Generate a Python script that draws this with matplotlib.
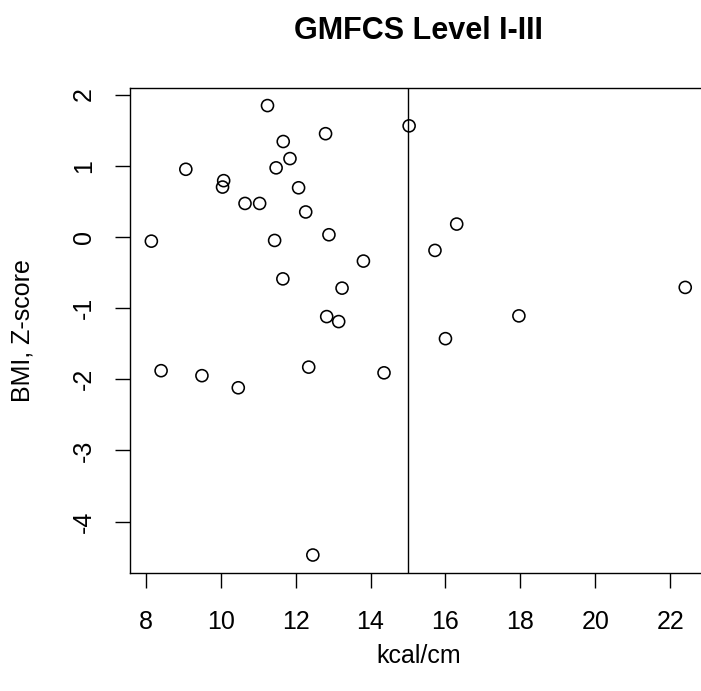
import matplotlib.pyplot as plt
import numpy as np

plt.rcParams['font.family'] = ['Liberation Sans', 'DejaVu Sans']
plt.rcParams['axes.unicode_minus'] = False

kcal_cm = [8.15, 8.41, 9.07, 9.50, 10.05, 10.08, 10.47, 10.65, 11.04, 11.25,
           11.48, 11.44, 11.67, 11.66, 11.85, 12.08, 12.27, 12.35, 12.46, 12.80,
           12.83, 12.89, 13.15, 13.24, 13.81, 14.36, 15.03, 15.72, 16.00, 16.30,
           17.96, 22.40]
bmi_z = [-0.06, -1.88, 0.95, -1.95, 0.70, 0.79, -2.12, 0.47, 0.47, 1.845,
         0.97, -0.05, 1.34, -0.59, 1.10, 0.69, 0.35, -1.83, -4.47, 1.45,
         -1.12, 0.03, -1.19, -0.72, -0.34, -1.91, 1.56, -0.19, -1.43, 0.18,
         -1.11, -0.71]
cutoff = 15
x_ticks = [8, 10, 12, 14, 16, 18, 20, 22]
y_ticks = [-4, -3, -2, -1, 0, 1, 2]

fig = plt.figure(figsize=(7.01, 6.91), dpi=100)
ax = fig.add_axes([130 / 701, 118 / 691, 576.6 / 701, 485.4 / 691])

ax.scatter(kcal_cm, bmi_z, s=75, facecolors='none', edgecolors='black', linewidths=1.15)
ax.axvline(cutoff, color='black', linewidth=1.0)

# R style 4% axis expansion
xr = max(kcal_cm) - min(kcal_cm)
yr = max(bmi_z) - min(bmi_z)
ax.set_xlim(min(kcal_cm) - 0.04 * xr, max(kcal_cm) + 0.04 * xr)
ax.set_ylim(min(bmi_z) - 0.04 * yr, max(bmi_z) + 0.04 * yr)

ax.set_xticks(x_ticks)
ax.set_yticks(y_ticks)
ax.tick_params(axis='both', direction='out', length=10.8, width=1.0, labelsize=18)
ax.tick_params(axis='x', pad=15.5)
ax.tick_params(axis='y', pad=13.5)
for lab in ax.get_yticklabels():
    lab.set_rotation(90)
    lab.set_va('center')

for sp in ax.spines.values():
    sp.set_linewidth(1.0)

ax.set_title('GMFCS Level I-III', fontsize=22, fontweight='bold', pad=35)
ax.set_xlabel('kcal/cm', fontsize=18)
ax.set_ylabel('BMI, Z-score', fontsize=18)
ax.xaxis.set_label_coords(0.5, -0.147)
ax.yaxis.set_label_coords(-0.165, 0.5)

fig.savefig('out.png', dpi=100)
